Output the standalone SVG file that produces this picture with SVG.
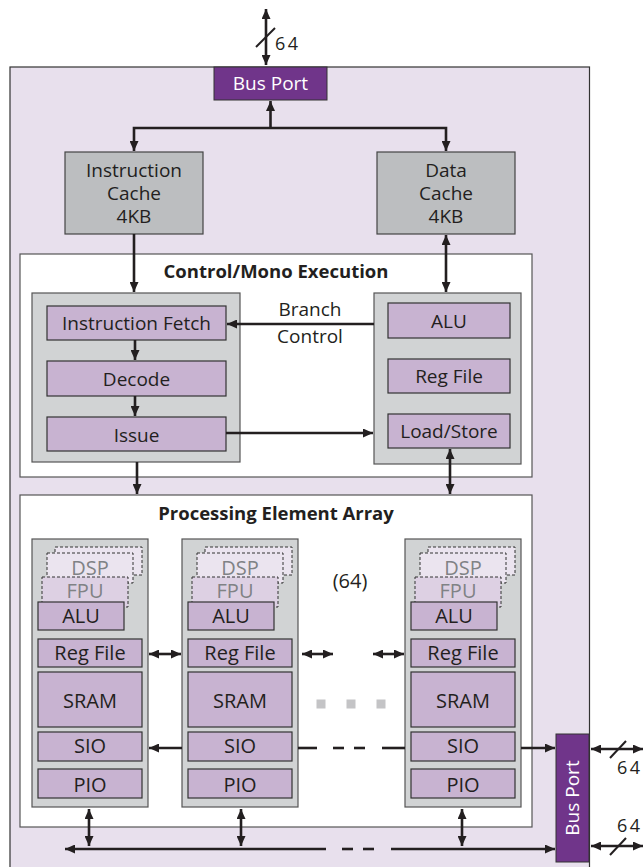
<svg xmlns="http://www.w3.org/2000/svg" width="644" height="867" viewBox="0 0 644 867">
<defs>
<marker id="ah" viewBox="0 0 10 9" refX="10" refY="4.5" markerWidth="10" markerHeight="9" markerUnits="userSpaceOnUse" orient="auto-start-reverse">
<path d="M0,0 L10,4.5 L0,9 z" fill="#231f20"/>
</marker>
<style>
text{font-family:"Open Sans","Noto Sans","Liberation Sans",sans-serif;fill:#231f20;text-anchor:middle}
.t19{font-size:19px}
.t20{font-size:20px}
.num{font-size:18px;letter-spacing:2.5px;text-anchor:start}
.ttl{font-size:18.5px;font-weight:bold}
.w{fill:#ffffff}
.g{fill:#808285}
.outer{fill:#e8e0ed;stroke:#333;stroke-width:1.2}
.port{fill:#70358a;stroke:#333;stroke-width:1}
.cache{fill:#bcbec0;stroke:#444;stroke-width:1.2}
.grp{fill:#ffffff;stroke:#555;stroke-width:1.2}
.gray{fill:#d1d3d4;stroke:#555;stroke-width:1.2}
.pu{fill:#c8b3d1;stroke:#333;stroke-width:1.2}
.dsp{fill:#ebe4ef;stroke:#333;stroke-width:1;stroke-dasharray:3 2}
.fpu{fill:#ddd0e3;stroke:#333;stroke-width:1;stroke-dasharray:3 2}
.c{fill:none;stroke:#231f20;stroke-width:2.6}
.c1{marker-end:url(#ah)}
.c2{marker-start:url(#ah);marker-end:url(#ah)}
.sl{stroke:#231f20;stroke-width:2}
.sq{fill:#c4c4c6}
</style>
</defs>

<g id="chip">
<rect class="outer" x="10" y="67" width="579.5" height="830"/>
</g>

<g id="bus-port-top">
<rect class="port" x="214" y="67" width="113" height="33"/>
<text class="t19 w" x="270.5" y="90">Bus Port</text>
</g>

<g id="instruction-cache">
<rect class="cache" x="65" y="152" width="138" height="82"/>
<text class="t19" x="134" y="177">Instruction</text>
<text class="t19" x="134" y="200">Cache</text>
<text class="t19" x="134" y="223">4KB</text>
</g>

<g id="data-cache">
<rect class="cache" x="377" y="152" width="138" height="82"/>
<text class="t19" x="446" y="177">Data</text>
<text class="t19" x="446" y="200">Cache</text>
<text class="t19" x="446" y="223">4KB</text>
</g>

<g id="control-mono">
<rect class="grp" x="20" y="254" width="512" height="223"/>
<text class="ttl" x="276" y="278">Control/Mono Execution</text>
</g>

<g id="control-unit">
<rect class="gray" x="32" y="293" width="208" height="169"/>
</g>
<g id="instruction-fetch">
<rect class="pu" x="47" y="306" width="179" height="34"/>
<text class="t19" x="136.5" y="330">Instruction Fetch</text>
</g>
<g id="decode">
<rect class="pu" x="47" y="361" width="179" height="35"/>
<text class="t19" x="136.5" y="386">Decode</text>
</g>
<g id="issue">
<rect class="pu" x="47" y="417" width="179" height="34"/>
<text class="t19" x="136.5" y="442">Issue</text>
</g>

<g id="mono-unit">
<rect class="gray" x="374" y="293" width="147" height="171"/>
</g>
<g id="mono-alu">
<rect class="pu" x="388" y="303" width="122" height="35"/>
<text class="t19" x="449" y="328">ALU</text>
</g>
<g id="mono-regfile">
<rect class="pu" x="388" y="359" width="122" height="34"/>
<text class="t19" x="449" y="383">Reg File</text>
</g>
<g id="mono-loadstore">
<rect class="pu" x="388" y="414" width="122" height="34"/>
<text class="t19" x="449" y="438">Load/Store</text>
</g>

<g id="pe-array">
<rect class="grp" x="20" y="495" width="512" height="332"/>
<text class="ttl" x="276" y="520">Processing Element Array</text>
<text class="t20" x="350" y="588">(64)</text>
<rect class="sq" x="316.5" y="699.5" width="9" height="9"/>
<rect class="sq" x="346.5" y="699.5" width="9" height="9"/>
<rect class="sq" x="376.5" y="699.5" width="9" height="9"/>
</g>

<g id="pe-1">
<rect class="gray" x="32" y="539" width="116" height="268"/>
<rect class="dsp" x="55" y="547" width="87" height="28"/>
<rect class="dsp" x="47" y="553" width="86" height="30"/>
<text class="t20 g" x="90" y="575">DSP</text>
<rect class="fpu" x="42" y="577" width="86" height="30"/>
<text class="t20 g" x="85" y="598">FPU</text>
<rect class="pu" x="38" y="602" width="86" height="28"/>
<text class="t20" x="81" y="623">ALU</text>
<rect class="pu" x="38" y="639" width="104" height="28"/>
<text class="t20" x="90" y="660">Reg File</text>
<rect class="pu" x="38" y="672" width="104" height="55"/>
<text class="t20" x="90" y="708">SRAM</text>
<rect class="pu" x="38" y="732" width="104" height="29"/>
<text class="t20" x="90" y="753">SIO</text>
<rect class="pu" x="38" y="769" width="104" height="29"/>
<text class="t20" x="90" y="792">PIO</text>
</g>

<g id="pe-2">
<rect class="gray" x="182" y="539" width="116" height="268"/>
<rect class="dsp" x="205" y="547" width="87" height="28"/>
<rect class="dsp" x="197" y="553" width="86" height="30"/>
<text class="t20 g" x="240" y="575">DSP</text>
<rect class="fpu" x="192" y="577" width="86" height="30"/>
<text class="t20 g" x="235" y="598">FPU</text>
<rect class="pu" x="188" y="602" width="86" height="28"/>
<text class="t20" x="231" y="623">ALU</text>
<rect class="pu" x="188" y="639" width="104" height="28"/>
<text class="t20" x="240" y="660">Reg File</text>
<rect class="pu" x="188" y="672" width="104" height="55"/>
<text class="t20" x="240" y="708">SRAM</text>
<rect class="pu" x="188" y="732" width="104" height="29"/>
<text class="t20" x="240" y="753">SIO</text>
<rect class="pu" x="188" y="769" width="104" height="29"/>
<text class="t20" x="240" y="792">PIO</text>
</g>

<g id="pe-64">
<rect class="gray" x="405" y="539" width="116" height="268"/>
<rect class="dsp" x="428" y="547" width="87" height="28"/>
<rect class="dsp" x="420" y="553" width="86" height="30"/>
<text class="t20 g" x="463" y="575">DSP</text>
<rect class="fpu" x="415" y="577" width="86" height="30"/>
<text class="t20 g" x="458" y="598">FPU</text>
<rect class="pu" x="411" y="602" width="86" height="28"/>
<text class="t20" x="454" y="623">ALU</text>
<rect class="pu" x="411" y="639" width="104" height="28"/>
<text class="t20" x="463" y="660">Reg File</text>
<rect class="pu" x="411" y="672" width="104" height="55"/>
<text class="t20" x="463" y="708">SRAM</text>
<rect class="pu" x="411" y="732" width="104" height="29"/>
<text class="t20" x="463" y="753">SIO</text>
<rect class="pu" x="411" y="769" width="104" height="29"/>
<text class="t20" x="463" y="792">PIO</text>
</g>

<g id="bus-port-side">
<rect class="port" x="556" y="734" width="33" height="128"/>
<text class="t19 w" transform="translate(579,798) rotate(-90)" x="0" y="0">Bus Port</text>
</g>

<g id="connectors">
<!-- top external bus -->
<line class="c c2" x1="266" y1="9" x2="266" y2="65"/>
<line class="sl" x1="256" y1="47" x2="275" y2="28"/>
<text class="num" x="275" y="50">64</text>
<!-- bus port to caches -->
<line class="c c1" x1="270.5" y1="128" x2="270.5" y2="101"/>
<path class="c c2" d="M134,151 L134,128 L446,128 L446,151"/>
<!-- caches to control -->
<line class="c c1" x1="134" y1="234" x2="134" y2="292"/>
<line class="c c2" x1="446" y1="235" x2="446" y2="292"/>
<!-- pipeline -->
<line class="c c1" x1="135" y1="340" x2="135" y2="360"/>
<line class="c c1" x1="135" y1="396" x2="135" y2="416"/>
<line class="c c1" x1="374" y1="324" x2="227" y2="324"/>
<text class="t19" x="310" y="316">Branch</text>
<text class="t19" x="310" y="343">Control</text>
<line class="c c1" x1="226" y1="433" x2="373" y2="433"/>
<!-- control to PE array -->
<line class="c c1" x1="137" y1="462" x2="137" y2="494"/>
<line class="c c2" x1="450" y1="449" x2="450" y2="494"/>
<!-- reg file neighbour links -->
<line class="c c2" x1="149" y1="654" x2="181" y2="654"/>
<line class="c c2" x1="302" y1="654" x2="333" y2="654"/>
<line class="c c2" x1="373" y1="654" x2="404" y2="654"/>
<!-- SIO chain -->
<line class="c c1" x1="182" y1="748" x2="149" y2="748"/>
<line class="c" x1="298" y1="748" x2="317" y2="748"/>
<line class="c" x1="333" y1="748" x2="344" y2="748"/>
<line class="c" x1="354" y1="748" x2="365" y2="748"/>
<line class="c" x1="382" y1="748" x2="405" y2="748"/>
<line class="c c1" x1="521" y1="748" x2="555" y2="748"/>
<!-- PIO to bottom bus -->
<line class="c c2" x1="89" y1="809" x2="89" y2="846"/>
<line class="c c2" x1="241" y1="809" x2="241" y2="846"/>
<line class="c c2" x1="462" y1="809" x2="462" y2="846"/>
<line class="c c1" x1="326" y1="849" x2="65" y2="849"/>
<line class="c" x1="342" y1="849" x2="353" y2="849"/>
<line class="c" x1="363" y1="849" x2="374" y2="849"/>
<line class="c c1" x1="391" y1="849" x2="555" y2="849"/>
<!-- side external buses -->
<line class="c c2" x1="591" y1="749" x2="643" y2="749"/>
<line class="sl" x1="610" y1="758" x2="626" y2="741"/>
<text class="num" x="617" y="774">64</text>
<line class="c c2" x1="591" y1="846" x2="643" y2="846"/>
<line class="sl" x1="610" y1="855" x2="626" y2="838"/>
<text class="num" x="617" y="832">64</text>
</g>
</svg>
